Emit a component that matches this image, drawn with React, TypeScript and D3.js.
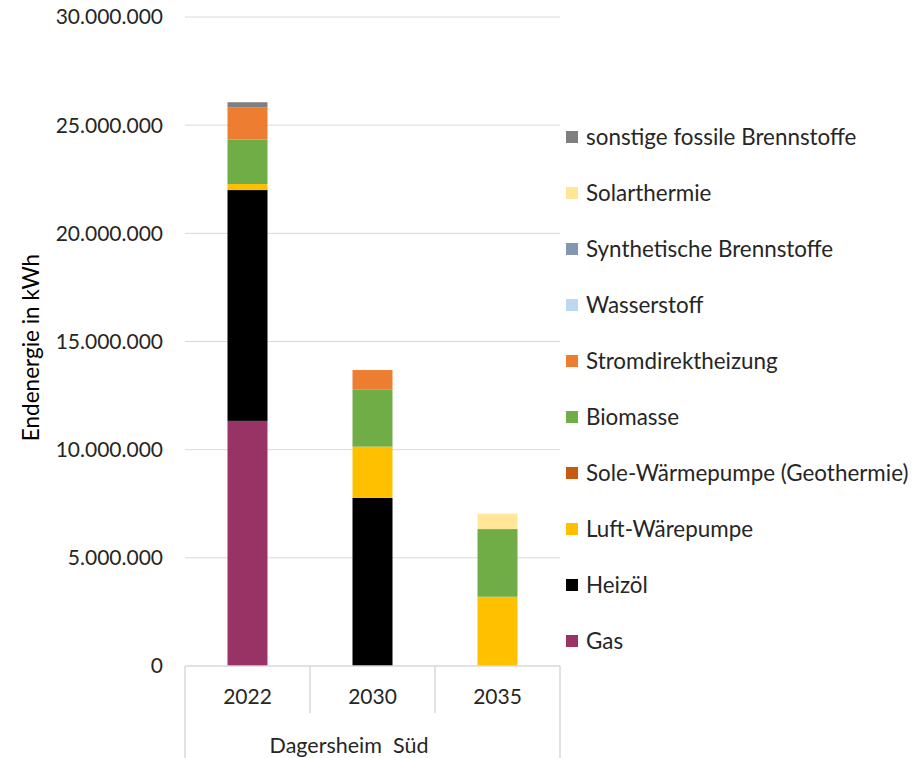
import React from "react";
import * as d3 from "d3";

const categories = ["2022", "2030", "2035"];
const groupLabel = "Dagersheim  Süd";
const seriesNames = [
  "Gas",
  "Heizöl",
  "Luft-Wärepumpe",
  "Sole-Wärmepumpe (Geothermie)",
  "Biomasse",
  "Stromdirektheizung",
  "Wasserstoff",
  "Synthetische Brennstoffe",
  "Solarthermie",
  "sonstige fossile Brennstoffe",
];
const seriesColors = [
  "#993366",
  "#000000",
  "#FFC000",
  "#C55A11",
  "#70AD47",
  "#ED7D31",
  "#BDD7EE",
  "#8497B0",
  "#FFE699",
  "#7F7F7F",
];
// values per series, in order of categories (kWh)
const gas = [11330000, 0, 0];
const heizoel = [10670000, 7770000, 0];
const luft = [280000, 2370000, 3200000];
const sole = [0, 0, 0];
const biomasse = [2060000, 2650000, 3130000];
const strom = [1490000, 890000, 0];
const wasserstoff = [0, 0, 0];
const synth = [0, 0, 0];
const solar = [0, 0, 710000];
const sonstige = [230000, 0, 0];
const seriesValues = [gas, heizoel, luft, sole, biomasse, strom, wasserstoff, synth, solar, sonstige];
const yTicks = [0, 5000000, 10000000, 15000000, 20000000, 25000000, 30000000];
const yTitle = "Endenergie in kWh";

const FONT = "Lato, 'Open Sans', sans-serif";

export default function App() {
  const W = 924;
  const H = 758;
  const left = 185;
  const right = 560;
  const top = 17;
  const bottom = 666;

  const x = d3.scaleBand<string>().domain(categories).range([left, right]).paddingInner(0.68).paddingOuter(0.34);
  const y = d3.scaleLinear().domain([0, 30000000]).range([bottom, top]);

  const rows = categories.map((c, i) => {
    const o: any = { cat: c };
    seriesNames.forEach((s, j) => (o[s] = seriesValues[j][i]));
    return o;
  });
  const stack = d3.stack<any>().keys(seriesNames)(rows);
  const fmt = (v: number) => d3.format(",")(v).replace(/,/g, ".");

  const band = (right - left) / categories.length;
  const legendTop = 137;
  const legendStep = 56;

  return (
    <svg width={W} height={H} style={{ position: "absolute", left: 0, top: 0, background: "#fff" }} fontFamily={FONT}>
      <rect x={0} y={0} width={W} height={H} fill="#fff" />
      {yTicks.map((t) => (
        <g key={t}>
          {t > 0 && <line x1={left} x2={right} y1={y(t)} y2={y(t)} stroke="#d9d9d9" strokeWidth={1} />}
          <text x={163} y={y(t)} dy="0.35em" textAnchor="end" fontSize={21} fill="#262626">
            {fmt(t)}
          </text>
        </g>
      ))}
      <text
        transform={`translate(31,${(top + bottom) / 2 + 6}) rotate(-90)`}
        textAnchor="middle"
        dy="0.35em"
        fontSize={22.5}
        fill="#000"
      >
        {yTitle}
      </text>
      {stack.map((layer, j) =>
        layer.map((d, i) =>
          d[1] - d[0] > 0 ? (
            <rect
              key={`${j}-${i}`}
              x={x(categories[i])}
              width={x.bandwidth()}
              y={y(d[1])}
              height={y(d[0]) - y(d[1])}
              fill={seriesColors[j]}
            />
          ) : null
        )
      )}
      {/* category axis */}
      <line x1={left} x2={right} y1={bottom} y2={bottom} stroke="#d9d9d9" strokeWidth={1.5} />
      {categories.map((c, i) => (
        <g key={c}>
          {i > 0 && (
            <line x1={left + band * i} x2={left + band * i} y1={bottom} y2={713} stroke="#d9d9d9" strokeWidth={1.5} />
          )}
          <text x={(x(c) as number) + x.bandwidth() / 2} y={697} dy="0.35em" textAnchor="middle" fontSize={21} fill="#262626">
            {c}
          </text>
        </g>
      ))}
      <line x1={left} x2={left} y1={bottom} y2={H} stroke="#d9d9d9" strokeWidth={1.5} />
      <line x1={right} x2={right} y1={bottom} y2={H} stroke="#d9d9d9" strokeWidth={1.5} />
      <text
        x={349}
        y={745}
        dy="0.35em"
        textAnchor="middle"
        fontSize={21.5}
        fill="#262626"
        style={{ whiteSpace: "pre" }}
      >
        {groupLabel}
      </text>
      {/* legend */}
      {seriesNames
        .map((s, j) => ({ s, j }))
        .reverse()
        .map(({ s, j }, k) => (
          <g key={s} transform={`translate(566,${legendTop + k * legendStep})`}>
            <rect x={0} y={-6} width={12} height={12} fill={seriesColors[j]} />
            <text x={20} y={0} dy="0.35em" fontSize={22.4} fill="#262626">
              {s}
            </text>
          </g>
        ))}
    </svg>
  );
}
